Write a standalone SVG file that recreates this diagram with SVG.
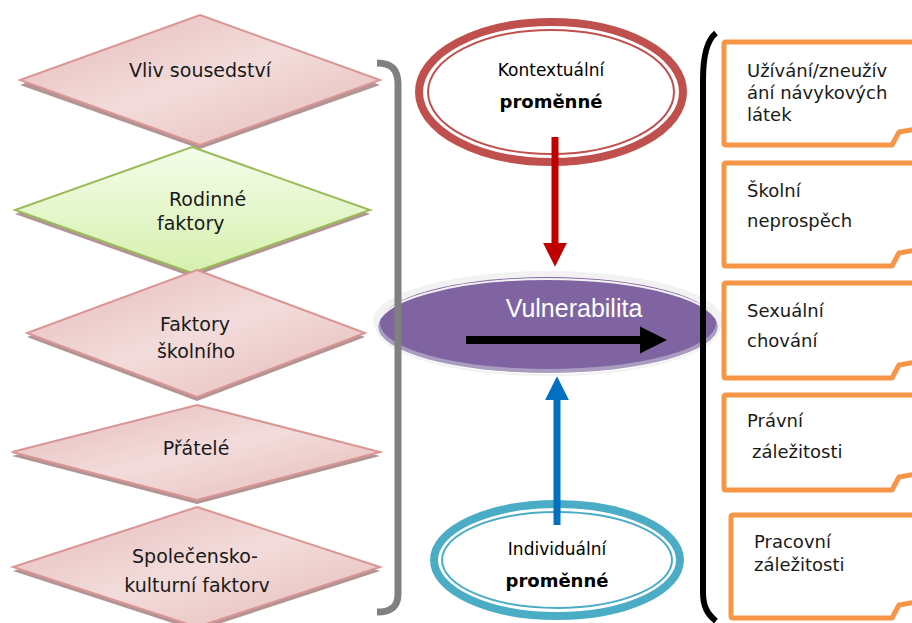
<svg xmlns="http://www.w3.org/2000/svg" width="912" height="623" viewBox="0 0 912 623">
<defs>
<linearGradient id="gPink" x1="0" y1="0" x2="1" y2="1">
<stop offset="0" stop-color="#E6B9B8"/>
<stop offset="0.5" stop-color="#F2DCDB"/>
<stop offset="1" stop-color="#E6B9B8"/>
</linearGradient>
<linearGradient id="gGreen" x1="0" y1="0" x2="0" y2="1">
<stop offset="0" stop-color="#F4FDEA"/>
<stop offset="1" stop-color="#D6F0AE"/>
</linearGradient>
<marker id="ahRed" viewBox="0 0 10 10" refX="0" refY="5" markerWidth="3.4" markerHeight="3.4" markerUnits="strokeWidth" orient="auto">
<path d="M0,0 L10,5 L0,10 Z" fill="#C00000"/>
</marker>
<marker id="ahBlue" viewBox="0 0 10 10" refX="0" refY="5" markerWidth="3.4" markerHeight="3.4" markerUnits="strokeWidth" orient="auto">
<path d="M0,0 L10,5 L0,10 Z" fill="#0070C0"/>
</marker>
<marker id="ahBlack" viewBox="0 0 10 10" refX="0" refY="5" markerWidth="3.4" markerHeight="3.4" markerUnits="strokeWidth" orient="auto">
<path d="M0,0 L10,5 L0,10 Z" fill="#000000"/>
</marker>
</defs>
<style>
.dia{fill:url(#gPink);stroke:#D99694;stroke-width:2}
.sh{fill:#B39494}
.dt{font-family:"DejaVu Sans","Liberation Sans",sans-serif;font-size:19px;fill:#1a1a1a}
.bt{font-family:"DejaVu Sans","Liberation Sans",sans-serif;font-size:18px;fill:#1a1a1a}
.box{fill:#ffffff;stroke:#F79646;stroke-width:5;stroke-linejoin:round}
.et{font-family:"DejaVu Sans","Liberation Sans",sans-serif;fill:#000}
</style>
<rect width="912" height="623" fill="#ffffff"/>

<!-- diamonds -->
<g id="n-vliv">
<polygon class="sh" points="200,19 380,85 200,149 20,85"/>
<polygon class="dia" points="200,15 380,80 200,145 20,80"/>
<text class="dt" x="200" y="77" text-anchor="middle">Vliv sousedství</text>
</g>
<g id="n-rodinne">
<polygon class="sh" points="192,151 370,214 192,277 15,214"/>
<polygon points="192,147 370,210 192,273 15,210" fill="url(#gGreen)" stroke="#9BBB59" stroke-width="2"/>
<text class="dt" x="169" y="206">Rodinné</text>
<text class="dt" x="157" y="230">faktory</text>
</g>
<g id="n-skolni">
<polygon class="sh" points="197,274 365,337 197,401 27,337"/>
<polygon class="dia" points="197,270 365,333 197,397 27,333"/>
<text class="dt" x="195" y="331" text-anchor="middle">Faktory</text>
<text class="dt" x="196" y="358" text-anchor="middle">školního</text>
</g>
<g id="n-pratele">
<polygon class="sh" points="197,409 380,456 197,504 12,456"/>
<polygon class="dia" points="197,405 380,452 197,500 12,452"/>
<text class="dt" x="196" y="455" text-anchor="middle">Přátelé</text>
</g>
<g id="n-spol">
<polygon class="sh" points="197,511 380,571 197,631 13,571"/>
<polygon class="dia" points="197,507 380,567 197,627 13,567"/>
<text class="dt" x="195" y="563" text-anchor="middle">Společensko-</text>
<text class="dt" x="197" y="592" text-anchor="middle">kulturní faktorv</text>
</g>

<!-- purple central ellipse -->
<g id="n-vuln">
<ellipse cx="548" cy="321" rx="175" ry="50" fill="#F2F2F2"/>
<ellipse cx="548" cy="326" rx="170" ry="47" fill="#A89CC0"/>
<ellipse cx="548" cy="323" rx="168" ry="46" fill="#8064A2"/>
<ellipse cx="548" cy="327" rx="171" ry="48" fill="none" stroke="#F2F2F2" stroke-width="2"/>
<text x="574" y="317" text-anchor="middle" font-family="Liberation Sans, Arial, sans-serif" font-size="25" fill="#ffffff">Vulnerabilita</text>
</g>

<!-- red context ellipse -->
<g id="n-kontext">
<ellipse cx="551" cy="92" rx="132" ry="70" fill="#ffffff" stroke="#C0504D" stroke-width="8"/>
<ellipse cx="551" cy="92" rx="123" ry="62" fill="none" stroke="#C0504D" stroke-width="2"/>
<text class="et" x="551" y="76" text-anchor="middle" font-size="17" font-weight="500">Kontextuální</text>
<text class="et" x="551" y="108" text-anchor="middle" font-size="18" font-weight="bold">proměnné</text>
</g>

<!-- blue individual ellipse -->
<g id="n-indiv">
<ellipse cx="557" cy="560" rx="123" ry="56" fill="#ffffff" stroke="#4BACC6" stroke-width="8"/>
<ellipse cx="557" cy="560" rx="115" ry="48" fill="none" stroke="#4BACC6" stroke-width="2"/>
<text class="et" x="557" y="555" text-anchor="middle" font-size="17" font-weight="500">Individuální</text>
<text class="et" x="557" y="587" text-anchor="middle" font-size="18" font-weight="bold">proměnné</text>
</g>

<!-- outcome boxes -->
<g id="n-box1">
<path class="box" d="M724,44 Q724,42 726,42 L916,42 M724,44 L724,143 Q724,145 726,145 L892,145 L899,132 L916,129"/>
<text class="bt" x="747" y="77">Užívání/zneužív</text>
<text class="bt" x="747" y="99">ání návykových</text>
<text class="bt" x="747" y="121">látek</text>
</g>
<g id="n-box2">
<path class="box" d="M724,165 Q724,163 726,163 L916,163 M724,165 L724,264 Q724,266 726,266 L892,266 L899,253 L916,250"/>
<text class="bt" x="747" y="197">Školní</text>
<text class="bt" x="747" y="227">neprospěch</text>
</g>
<g id="n-box3">
<path class="box" d="M724,285 Q724,283 726,283 L916,283 M724,285 L724,376 Q724,378 726,378 L892,378 L899,365 L916,362"/>
<text class="bt" x="747" y="317">Sexuální</text>
<text class="bt" x="747" y="347">chování</text>
</g>
<g id="n-box4">
<path class="box" d="M724,397 Q724,395 726,395 L916,395 M724,397 L724,488 Q724,490 726,490 L892,490 L899,477 L916,474"/>
<text class="bt" x="747" y="427">Právní</text>
<text class="bt" x="752" y="458">záležitosti</text>
</g>
<g id="n-box5">
<path class="box" d="M731,517 Q731,515 733,515 L916,515 M731,517 L731,616 Q731,618 733,618 L892,618 L899,605 L916,602"/>
<text class="bt" x="754" y="548">Pracovní</text>
<text class="bt" x="754" y="571">záležitosti</text>
</g>

<!-- connectors and brackets -->
<g id="connectors">
<path d="M377,63 C392,63 398,70 398,84 L398,594 C398,606 392,612 377,612" fill="none" stroke="#808080" stroke-width="7"/>
<path d="M716,33 C707,40 703,55 703,80 L703,592 C703,606 707,614 716,621" fill="none" stroke="#000000" stroke-width="6"/>
<line x1="555" y1="137" x2="555" y2="243" stroke="#C00000" stroke-width="7" marker-end="url(#ahRed)"/>
<line x1="557" y1="525" x2="557" y2="400" stroke="#0070C0" stroke-width="7" marker-end="url(#ahBlue)"/>
<line x1="466" y1="340" x2="640" y2="340" stroke="#000000" stroke-width="8" marker-end="url(#ahBlack)"/>
</g>
</svg>
